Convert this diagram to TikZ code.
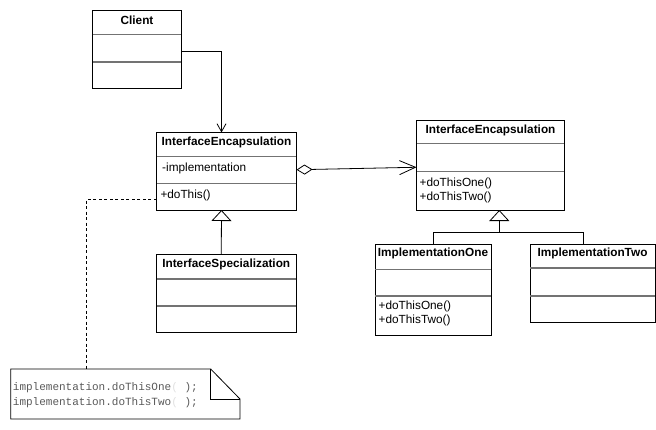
\documentclass[tikz,border=0pt]{standalone}
\usepackage{fontspec}
\setmainfont{Liberation Sans}
\newfontfamily\notefont{Liberation Mono}
\usetikzlibrary{arrows.meta,calc}
\tikzset{
  classbox/.style={draw=black, line width=0.8pt, fill=white, inner sep=0pt, outer sep=0pt, anchor=north west},
  sepline/.style={draw=black!55, line width=1.3pt},
  classtitle/.style={inner sep=0pt, font=\fontsize{11.8}{14}\selectfont\bfseries},
  member/.style={inner sep=0pt, anchor=west, font=\fontsize{11.8}{14}\selectfont},
  conn/.style={draw=black, line width=0.8pt},
  assoc/.style={conn, -{Straight Barb[length=8pt,width=9pt,line width=0.8pt]}},
  navi/.style={conn, {Diamond[open,fill=white,length=16pt,width=10pt,line width=0.8pt]}-{Straight Barb[length=16pt,width=14pt,line width=0.8pt]}},
  inherit/.style={conn, -{Triangle[open,fill=white,length=11pt,width=20pt,line width=0.8pt]}},
  dashline/.style={draw=black, line width=0.8pt, dash pattern=on 3pt off 2.5pt},
  notetext/.style={inner sep=0pt, anchor=west, text=black!65, font=\notefont\fontsize{11}{13}\selectfont},
}
% name, left, top, right, bottom, sep1, sep2, title
\newcommand{\umlclass}[8]{%
  \node[classbox, minimum width={(#4-#2)*1pt}, minimum height={(#5-#3)*1pt}] (#1) at (#2,#3) {};
  \draw[sepline] (#2+0.4,#6) -- (#4-0.4,#6);
  \draw[sepline] (#2+0.4,#7) -- (#4-0.4,#7);
  \node[classtitle] (#1-title) at ({(#2+#4)/2},#3+9.8) {#8};
}
\begin{document}
\begin{tikzpicture}[x=1pt,y=-1pt]
\useasboundingbox (0,0) rectangle (656,429);
% classes
\umlclass{client}{92.5}{10}{181.5}{88}{34.3}{62}{Client}
\umlclass{ieA}{156.5}{132.5}{296.5}{210}{156.7}{183.3}{InterfaceEncapsulation}
\node[member] (ieA-m1) at (162,168.5) {-implementation};
\node[member] (ieA-m2) at (160.3,195.2) {+doThis()};
\umlclass{spec}{156.5}{254.3}{296}{332.3}{279}{306}{InterfaceSpecialization}
\umlclass{ieB}{416.5}{120.5}{564.5}{210}{143.3}{171.7}{InterfaceEncapsulation}
\node[member] (ieB-m1) at (419.5,183.2) {+doThisOne()};
\node[member] (ieB-m2) at (419.5,197.2) {+doThisTwo()};
\umlclass{implA}{375}{244}{491}{335}{269.3}{296}{ImplementationOne}
\node[member] (implA-m1) at (378.5,306.8) {+doThisOne()};
\node[member] (implA-m2) at (378.5,320.8) {+doThisTwo()};
\umlclass{implB}{530}{244}{655}{322.3}{268}{296}{ImplementationTwo}
% note
\node[inner sep=0pt, outer sep=0pt, minimum width=229.3pt, minimum height=50pt, anchor=north west] (note) at (10.7,369) {};
\draw[conn] (note.north west) -- ([xshift=-29.3pt]note.north east) -- ([yshift=-30pt]note.north east) -- (note.south east) -- (note.south west) -- cycle;
\draw[conn] ([xshift=-29.3pt]note.north east) -- ([xshift=-29.3pt,yshift=-30pt]note.north east) -- ([yshift=-30pt]note.north east);
\node[notetext] (note-l1) at (12.7,387.3) {implementation.doThisOne{\color{black!12}(}\ );};
\node[notetext] (note-l2) at (12.7,402.3) {implementation.doThisTwo{\color{black!12}(}\ );};
% connectors
\draw[assoc] ([yshift=-2.7pt]client.east) -| ([xshift=-5pt]ieA.north);
\draw[navi] ([yshift=1.5pt]ieA.east) -- ([yshift=-2pt]ieB.west);
\draw[inherit] ([xshift=-5pt]spec.north) -- ([xshift=-5pt]ieA.south);
\coordinate (junc) at (499.3,232.3);
\draw[inherit] (junc) -- (junc |- ieB.south);
\draw[conn] (implA.north) |- (junc) -| ([xshift=-9.2pt]implB.north);
\draw[dashline] (ieA.west |- 0,199) -| ([xshift=76pt]note.north west);
\end{tikzpicture}
\end{document}
